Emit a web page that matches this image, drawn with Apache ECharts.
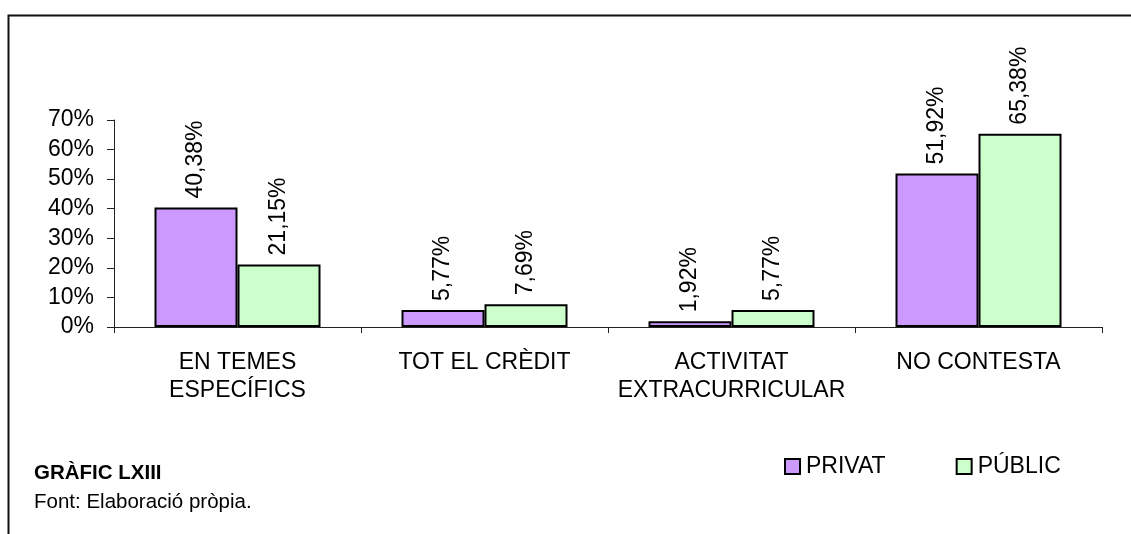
<!DOCTYPE html>
<html>
<head>
<meta charset="utf-8">
<script src="https://cdn.jsdelivr.net/npm/echarts@6/dist/echarts.min.js"></script>
<style>
    html, body { margin: 0; padding: 0; background: #fff; }
    #chart { width: 1131px; height: 534px; }
</style>
</head>
<body>
<div id="chart"></div>
<script>
// data
const categories = ['EN TEMES\nESPECÍFICS', 'TOT EL CRÈDIT', 'ACTIVITAT\nEXTRACURRICULAR', 'NO CONTESTA'];
const privat = [40.38, 5.77, 1.92, 51.92];
const public_ = [21.15, 7.69, 5.77, 65.38];
const yTicks = [0, 10, 20, 30, 40, 50, 60, 70];

const font = 'Liberation Sans, Arial, sans-serif';

const pct = v => v.toFixed(2).replace('.', ',') + '%';

const labelOpt = {
    show: true,
    position: 'top',
    rotate: 90,
    align: 'left',
    verticalAlign: 'middle',
    distance: 9,
    color: '#000',
    fontSize: 23,
    fontFamily: font,
    formatter: p => pct(p.value)
};

const myChart = echarts.init(document.getElementById('chart'));
myChart.setOption({
    animation: false,
    backgroundColor: '#fff',
    textStyle: { fontFamily: font },
    title: {
        text: 'GRÀFIC LXIII',
        subtext: 'Font: Elaboració pròpia.',
        left: 34,
        top: 463,
        padding: 0,
        itemGap: 8,
        textStyle: { fontSize: 20.5, fontWeight: 'bold', color: '#000', fontFamily: font },
        subtextStyle: { fontSize: 20.5, color: '#000', fontFamily: font }
    },
    legend: {
        left: 784,
        top: 455,
        padding: 0,
        itemGap: 70,
        itemWidth: 15,
        itemHeight: 15,
        icon: 'rect',
        textStyle: { fontSize: 23, color: '#000', fontFamily: font, padding: [0, 0, 0, 1] },
        data: ['PRIVAT', 'PÚBLIC']
    },
    grid: {
        left: 114, right: 29, top: 120, bottom: 207,
        containLabel: false
    },
    xAxis: {
        type: 'category',
        data: categories,
        axisLine: { lineStyle: { color: '#222', width: 1 } },
        axisTick: { show: true, length: 6, lineStyle: { color: '#222' } },
        axisLabel: {
            color: '#000',
            fontSize: 23,
            fontFamily: font,
            lineHeight: 28,
            margin: 22,
            interval: 0
        }
    },
    yAxis: {
        type: 'value',
        min: 0,
        max: 70,
        interval: 10,
        splitLine: { show: false },
        axisLine: { show: true, lineStyle: { color: '#222', width: 1 } },
        axisTick: { show: true, length: 7, lineStyle: { color: '#222' } },
        axisLabel: {
            color: '#000',
            fontSize: 23,
            fontFamily: font,
            margin: 20,
            formatter: v => (yTicks.includes(v) ? v + '%' : '')
        }
    },
    series: [
        {
            name: 'PRIVAT',
            type: 'bar',
            data: privat,
            barWidth: 83,
            barGap: '0%',
            itemStyle: { color: '#CC99FF', borderColor: '#000', borderWidth: 2 },
            label: labelOpt
        },
        {
            name: 'PÚBLIC',
            type: 'bar',
            data: public_,
            barWidth: 83,
            barGap: '0%',
            itemStyle: { color: '#CCFFCC', borderColor: '#000', borderWidth: 2 },
            label: labelOpt
        }
    ],
    graphic: [
        {
            type: 'polyline',
            silent: true,
            shape: { points: [[8.5, 534], [8.5, 15.5], [1131, 15.5]] },
            style: { stroke: '#111', lineWidth: 2, fill: null }
        }
    ]
});
</script>
</body>
</html>
